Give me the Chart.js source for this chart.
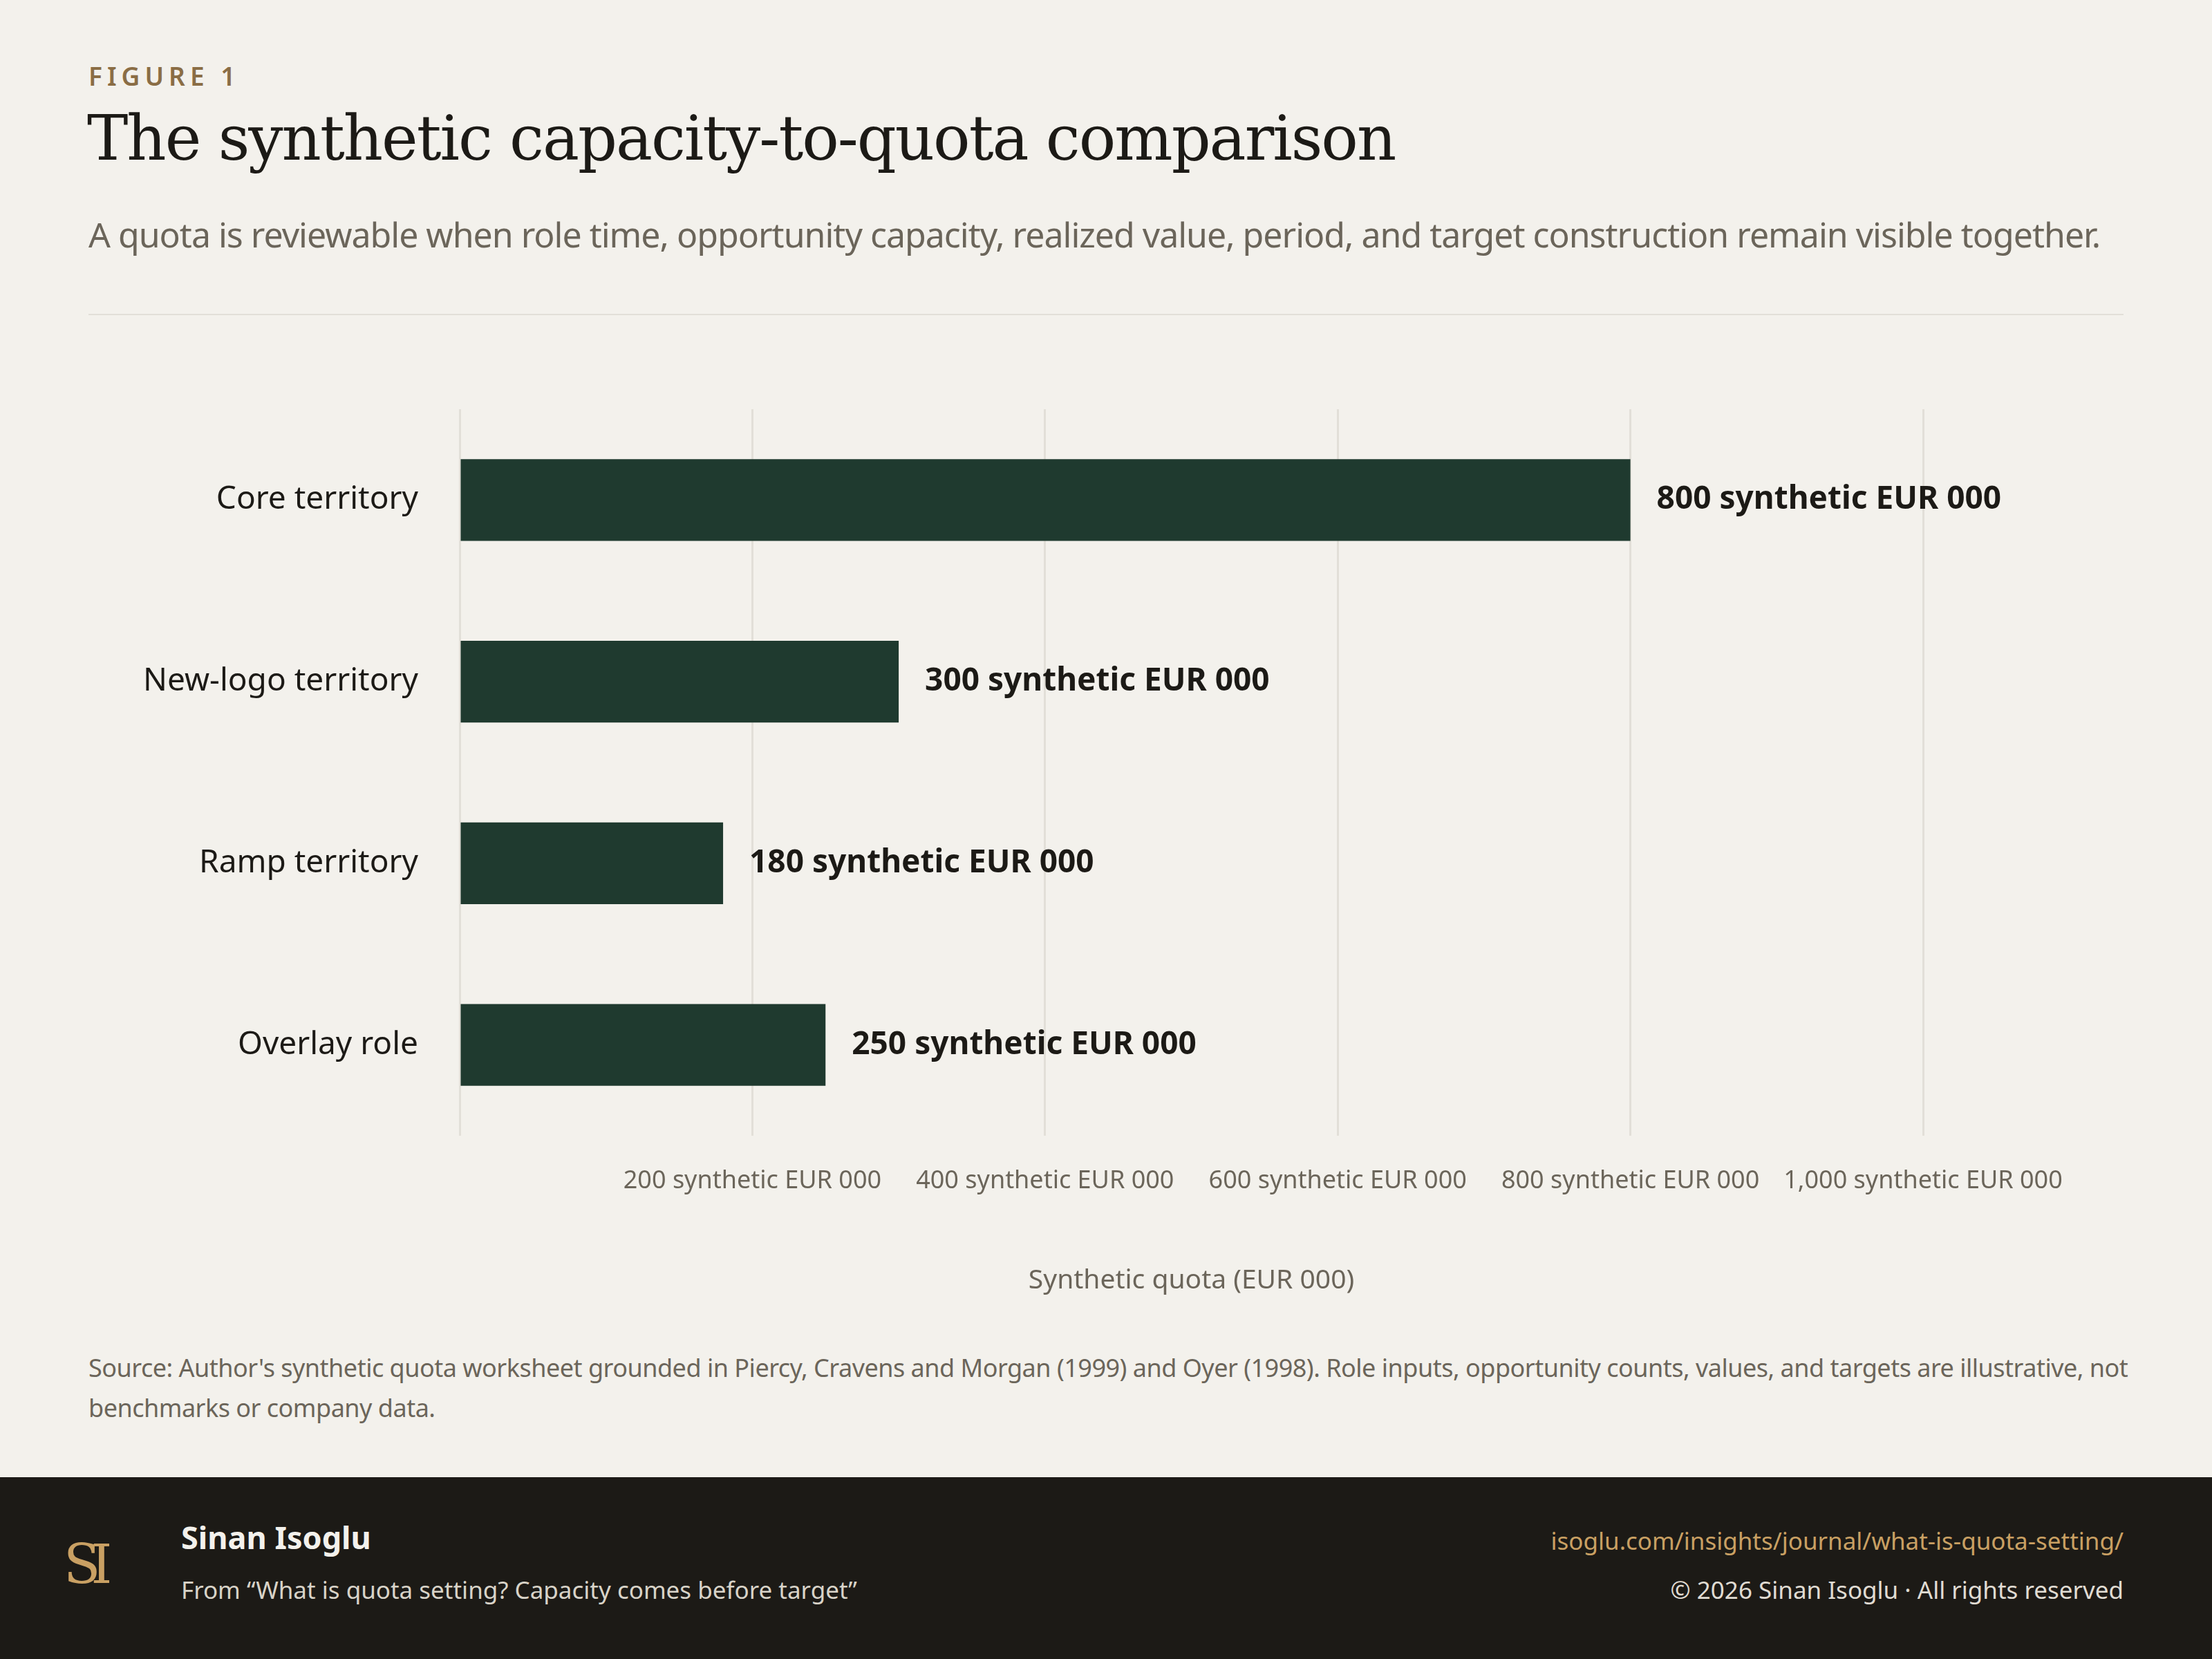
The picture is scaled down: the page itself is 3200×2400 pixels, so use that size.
<!DOCTYPE html>
<html>
<head>
<meta charset="utf-8">
<script src="https://cdn.jsdelivr.net/npm/chart.js@4"></script>
<style>
  html, body { margin: 0; padding: 0; }
  body { width: 3200px; height: 2400px; background: #f3f1ec; position: relative; overflow: hidden; font-family: "Noto Sans", sans-serif; }
  .abs { position: absolute; white-space: nowrap; }
  #fig { left: 128px; top: 84px; font-size: 37px; letter-spacing: 7px; color: #8a6d45; font-weight: 600; }
  #title { left: 126px; top: 148px; font-family: "DejaVu Serif", serif; font-size: 89px; color: #1c1a16; letter-spacing: -2px; }
  #sub { left: 128px; top: 305px; font-size: 50px; color: #6b655a; letter-spacing: -1px; }
  #rule { left: 128px; top: 454px; width: 2944px; height: 2px; background: #e2dfd8; }
  #wrap { left: 0; top: 500px; width: 3200px; height: 1380px; }
  #src { left: 128px; top: 1950px; width: 2990px; font-size: 36px; line-height: 58px; color: #6b655a; white-space: normal; letter-spacing: -0.5px; }
  #foot { left: 0; top: 2137px; width: 3200px; height: 263px; background: #1c1a16; }
  #logo { left: 92px; top: 2218px; font-family: "DejaVu Serif", serif; font-size: 78px; color: #c9a063; letter-spacing: -14px; }
  #name { left: 262px; top: 2193px; font-size: 45px; font-weight: 700; color: #f3f1ec; }
  #from { left: 262px; top: 2276px; font-size: 35px; color: #d8d3c8; }
  #url { right: 128px; top: 2205px; font-size: 35px; color: #c9a063; }
  #copy { right: 128px; top: 2276px; font-size: 35px; color: #e0dcd3; }
</style>
</head>
<body>
<div class="abs" id="fig">FIGURE 1</div>
<div class="abs" id="title">The synthetic capacity-to-quota comparison</div>
<div class="abs" id="sub">A quota is reviewable when role time, opportunity capacity, realized value, period, and target construction remain visible together.</div>
<div class="abs" id="rule"></div>
<div class="abs" id="wrap"><canvas id="chart" width="3200" height="1380"></canvas></div>
<div class="abs" id="src">Source: Author's synthetic quota worksheet grounded in Piercy, Cravens and Morgan (1999) and Oyer (1998). Role inputs, opportunity counts, values, and targets are illustrative, not benchmarks or company data.</div>
<div class="abs" id="foot"></div>
<div class="abs" id="logo">SI</div>
<div class="abs" id="name">Sinan Isoglu</div>
<div class="abs" id="from">From “What is quota setting? Capacity comes before target”</div>
<div class="abs" id="url">isoglu.com/insights/journal/what-is-quota-setting/</div>
<div class="abs" id="copy">© 2026 Sinan Isoglu · All rights reserved</div>
<script>
var categories = ['Core territory', 'New-logo territory', 'Ramp territory', 'Overlay role'];
var quotaValues = [800, 300, 180, 250];
var tickValues = [0, 200, 400, 600, 800, 1000];
var unit = ' synthetic EUR 000';

var valueLabels = {
  id: 'valueLabels',
  afterDatasetsDraw: function (chart) {
    var ctx = chart.ctx;
    var meta = chart.getDatasetMeta(0);
    ctx.save();
    ctx.font = '700 46px "Noto Sans"';
    ctx.fillStyle = '#1c1a16';
    ctx.textBaseline = 'middle';
    meta.data.forEach(function (bar, i) {
      ctx.fillText(quotaValues[i] + unit, bar.x + 38, bar.y);
    });
    ctx.restore();
  }
};

new Chart(document.getElementById('chart').getContext('2d'), {
  type: 'bar',
  data: {
    labels: categories,
    datasets: [{
      data: quotaValues,
      backgroundColor: '#1f3a2f',
      barPercentage: 0.9,
      categoryPercentage: 0.5
    }]
  },
  plugins: [valueLabels],
  options: {
    indexAxis: 'y',
    responsive: false,
    animation: false,
    devicePixelRatio: 1,
    layout: {padding: {top: 92, right: 418, left: 0, bottom: 0}},
    plugins: {legend: {display: false}, tooltip: {enabled: false}},
    scales: {
      x: {
        min: 0, max: 1000,
        afterBuildTicks: function (s) { s.ticks = tickValues.map(function (v) { return {value: v}; }); },
        afterFit: function (s) { s.height = 237; },
        grid: {color: '#e2dfd8', lineWidth: 3, drawTicks: false},
        border: {display: false},
        ticks: {
          autoSkip: false, maxRotation: 0, padding: 44,
          color: '#6b655a', font: {family: 'Noto Sans', size: 36},
          callback: function (v) { return v === 0 ? '' : v.toLocaleString('en-US') + unit; }
        },
        title: {display: true, text: 'Synthetic quota (EUR 000)', color: '#6b655a', font: {family: 'Noto Sans', size: 39}, padding: {top: 40}}
      },
      y: {
        afterFit: function (s) { s.width = 665; },
        grid: {display: false},
        border: {display: false},
        ticks: {color: '#1c1a16', padding: 52, font: {family: 'Noto Sans', size: 46}}
      }
    }
  }
});
</script>
</body>
</html>
